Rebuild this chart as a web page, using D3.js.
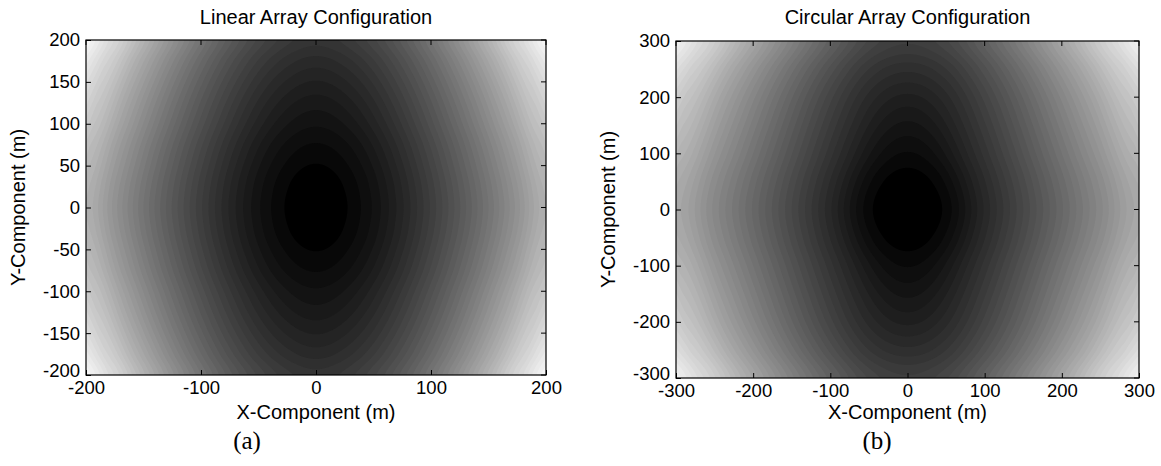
<!DOCTYPE html>
<html><head><meta charset="utf-8">
<script src="https://cdn.jsdelivr.net/npm/d3@7"></script>
<style>
body{margin:0;background:#fff;}
svg{display:block;}
.tick-label{font-family:"Liberation Sans",Arial,sans-serif;font-size:18.5px;fill:#000;}
.title{font-family:"Liberation Sans",Arial,sans-serif;font-size:20px;fill:#000;}
.axlabel{font-family:"Liberation Sans",Arial,sans-serif;font-size:20px;fill:#000;}
.panel{font-family:"Liberation Serif","Times New Roman",serif;font-size:25px;fill:#000;}
</style></head>
<body>
<svg id="chart" width="1161" height="466"></svg>
<script>
// ---------- DATA ----------
// Panel (a): Linear array. Gray level (0=black, 255=white) along the two centre lines.
const linearTitle = "Linear Array Configuration";
const linearXSamples = [-200,-175,-150,-125,-100,-75,-50,-25,0,25,50,75,100,125,150,175,200];
const linearRowGray  = [178,148,118,90,64,40,20,7,0,7,20,40,64,90,118,148,178];   // along y = 0
const linearYSamples = [-200,-175,-150,-125,-100,-75,-50,-25,0,25,50,75,100,125,150,175,200];
const linearColGray  = [54,44,35,27,20,13,7.5,2.5,0,2.5,7.5,13,20,27,35,44,54];    // along x = 0
const linearTicks    = [-200,-100,0,100,200];
const linearYTicks   = [-200,-150,-100,-50,0,50,100,150,200];

// Panel (b): Circular array.
const circularTitle = "Circular Array Configuration";
const circularXSamples = [-300,-250,-200,-150,-100,-50,0,50,100,150,200,250,300];
const circularRowGray  = [170,138,106,74,42,10,0,10,42,74,106,138,170];
const circularYSamples = [-300,-250,-200,-150,-100,-50,0,50,100,150,200,250,300];
const circularColGray  = [64,48,34,23,13,4,0,4,13,23,34,48,64];
const circularTicks    = [-300,-200,-100,0,100,200,300];
const circularYTicks   = [-300,-200,-100,0,100,200,300];

const xLabel = "X-Component (m)";
const yLabel = "Y-Component (m)";
const panelLabels = ["(a)","(b)"];

// ---------- DRAWING ----------
const svg = d3.select("#chart");

// smooth (Catmull-Rom) reading between the sampled gray levels, linear beyond the last sample
function profile(samples, values){
  const idx = d3.scaleLinear().domain(samples).range(d3.range(samples.length)).clamp(true);
  const n = values.length;
  const lo = samples[0], hi = samples[n-1];
  const sHi = (values[n-1]-values[n-2])/(samples[n-1]-samples[n-2]);
  const sLo = (values[0]-values[1])/(samples[1]-samples[0]);
  return v => {
    if (v > hi) return values[n-1] + sHi*(v-hi);
    if (v < lo) return values[0] + sLo*(lo-v);
    const t = idx(v);
    let i = Math.min(Math.floor(t), n-2);
    const f = t - i;
    const p0 = values[Math.max(i-1,0)], p1 = values[i], p2 = values[i+1], p3 = values[Math.min(i+2,n-1)];
    const f2 = f*f, f3 = f2*f;
    return 0.5*((2*p1) + (-p0+p2)*f + (2*p0-5*p1+4*p2-p3)*f2 + (-p0+3*p1-3*p2+p3)*f3);
  };
}

// numeric inverse of a profile on the positive half
function inverse(fn, maxX){
  return g => {
    if (g <= 0) return 0;
    let a = 0, b = maxX*2;
    for (let k=0;k<40;k++){ const m=(a+b)/2; if (fn(m) < g) a=m; else b=m; }
    return (a+b)/2;
  };
}

function drawPanel(cfg){
  const {left,right,top,bottom,ext,xs,row,ys,col,xt,yt,title,plab,plabX,ylabX,id} = cfg;
  const x = d3.scaleLinear().domain([-ext,ext]).range([left,right]);
  const y = d3.scaleLinear().domain([-ext,ext]).range([bottom,top]);
  const px = profile(xs,row);
  const py = profile(ys,col);
  const inv = inverse(px, ext);
  const w = right-left, h = bottom-top;
  const nx = Math.round(w), ny = Math.round(h);
  const vals = new Array(nx*ny);
  for(let j=0;j<ny;j++){
    const dy = y.invert(top + (j+0.5)*h/ny);
    const b = Math.max(0, py(dy));
    const Y = inv(b);                       // x-distance with the same gray as this row's centre
    for(let i=0;i<nx;i++){
      const dx = x.invert(left + (i+0.5)*w/nx);
      const a = Math.max(0, px(dx));
      const e = px(Math.hypot(dx, Y));      // elliptic reading
      vals[j*nx+i] = e + 1.3*a*b/255;       // brightening toward the corners
    }
  }
  const step = 5.5;
  const thr = d3.range(8, 256, step);
  const contours = d3.contours().size([nx,ny]).thresholds(thr)(vals);
  const proj = d3.geoTransform({point(a,b){ this.stream.point(left + a*w/nx, top + b*h/ny); }});
  const path = d3.geoPath(proj);
  svg.append("clipPath").attr("id","clip"+id).append("rect")
    .attr("x",left).attr("y",top).attr("width",w).attr("height",h);
  const g = svg.append("g").attr("clip-path","url(#clip"+id+")");
  g.append("rect").attr("x",left).attr("y",top).attr("width",w).attr("height",h).attr("fill","#000");
  g.selectAll("path").data(contours).join("path")
    .attr("d",path)
    .attr("fill",d=>{const v=Math.min(248,Math.round(d.value)); return d3.rgb(v,v,v);})
    .attr("stroke","none");

  // box
  svg.append("rect").attr("x",left).attr("y",top).attr("width",w).attr("height",h)
    .attr("fill","none").attr("stroke","#000").attr("stroke-width",1.2);
  const tl = 5;
  const fmt = d => String(d);
  // x ticks (bottom + top, inward)
  const axB = d3.axisBottom(x).tickValues(xt).tickSize(0).tickPadding(6).tickFormat(fmt);
  const gb = svg.append("g").attr("transform",`translate(0,${bottom})`).call(axB);
  gb.select(".domain").remove();
  gb.selectAll("text").attr("class","tick-label").attr("font-size",null).attr("font-family",null);
  gb.selectAll(".tick").append("line").attr("y1",0).attr("y2",-tl).attr("stroke","#000");
  svg.append("g").selectAll("line").data(xt).join("line")
    .attr("x1",d=>x(d)).attr("x2",d=>x(d)).attr("y1",top).attr("y2",top+tl).attr("stroke","#000");
  // y ticks
  const axL = d3.axisLeft(y).tickValues(yt).tickSize(0).tickPadding(6).tickFormat(fmt);
  const gl = svg.append("g").attr("transform",`translate(${left},0)`).call(axL);
  gl.select(".domain").remove();
  gl.selectAll("text").attr("class","tick-label").attr("font-size",null).attr("font-family",null);
  gl.selectAll(".tick").filter(d=>d===yt[0]).select("text").attr("dy","0.1em");
  gl.selectAll(".tick").append("line").attr("x1",0).attr("x2",tl).attr("stroke","#000");
  svg.append("g").selectAll("line").data(yt).join("line")
    .attr("x1",right).attr("x2",right-tl).attr("y1",d=>y(d)).attr("y2",d=>y(d)).attr("stroke","#000");

  const cx = (left+right)/2;
  svg.append("text").attr("class","title").attr("x",cx).attr("y",24).attr("text-anchor","middle").text(title);
  svg.append("text").attr("class","axlabel").attr("x",cx).attr("y",419).attr("text-anchor","middle").text(xLabel);
  svg.append("text").attr("class","axlabel").attr("transform",`translate(${ylabX},${(top+bottom)/2}) rotate(-90)`)
    .attr("text-anchor","middle").text(yLabel);
  svg.append("text").attr("class","panel").attr("x",plabX).attr("y",449).attr("text-anchor","middle").text(plab);
}

drawPanel({id:"a",left:86,right:546,top:40,bottom:375,ext:200,
  xs:linearXSamples,row:linearRowGray,ys:linearYSamples,col:linearColGray,
  xt:linearTicks,yt:linearYTicks,title:linearTitle,plab:panelLabels[0],plabX:247,ylabX:25});
drawPanel({id:"b",left:676,right:1139,top:41,bottom:378,ext:300,
  xs:circularXSamples,row:circularRowGray,ys:circularYSamples,col:circularColGray,
  xt:circularTicks,yt:circularYTicks,title:circularTitle,plab:panelLabels[1],plabX:877,ylabX:615});
</script>
</body></html>
